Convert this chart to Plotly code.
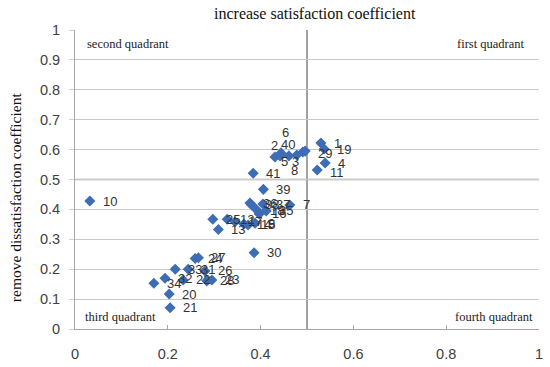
import plotly.graph_objects as go

# ---- data ----
labels = ["1", "2", "3", "4", "5", "6", "7", "8", "9", "10",
          "11", "12", "13", "14", "15", "16", "17", "18", "19", "20",
          "21", "22", "23", "24", "25", "26", "27", "28", "29", "30",
          "31", "32", "33", "34", "35", "36", "37", "38", "39", "40", "41"]
inc_sat = [0.530, 0.431, 0.478, 0.539, 0.442, 0.444, 0.463, 0.491, 0.388, 0.032,
           0.522, 0.328, 0.309, 0.364, 0.373, 0.397, 0.345, 0.392, 0.537, 0.203,
           0.205, 0.233, 0.295, 0.259, 0.297, 0.280, 0.266, 0.284, 0.496, 0.386,
           0.244, 0.194, 0.216, 0.170, 0.412, 0.377, 0.405, 0.381, 0.406, 0.461, 0.384]
rem_dis = [0.622, 0.575, 0.582, 0.555, 0.579, 0.589, 0.415, 0.592, 0.354, 0.428,
           0.532, 0.367, 0.333, 0.351, 0.348, 0.385, 0.359, 0.398, 0.602, 0.117,
           0.071, 0.164, 0.164, 0.236, 0.367, 0.194, 0.238, 0.161, 0.595, 0.255,
           0.200, 0.170, 0.200, 0.153, 0.395, 0.421, 0.418, 0.415, 0.467, 0.579, 0.521]
x_ticks = [0, 0.2, 0.4, 0.6, 0.8, 1]
y_ticks = [0, 0.1, 0.2, 0.3, 0.4, 0.5, 0.6, 0.7, 0.8, 0.9, 1]
quadrants = ["second quadrant", "first quadrant", "third quadrant", "fourth quadrant"]
x_title = "increase satisfaction coefficient"
y_title = "remove dissatisfaction coefficient"

# ---- label offsets (pixels, style only) ----
label_offset = {"2": (-4.5, 12), "40": (-9, 11), "6": (-0.5, 20), "5": (0, -6),
                "3": (-6, -7), "8": (-12.5, -19), "29": (12, -2), "11": (12, -3)}
default_offset = (12, 0)

MARKER = "#3D6DB4"
SERIF = "Liberation Serif"
SANS = "Liberation Sans"

fig = go.Figure()
fig.add_trace(go.Scatter(
    x=inc_sat, y=rem_dis, mode="markers",
    marker=dict(symbol="diamond", size=8.5, color=MARKER, line=dict(width=0)),
    hoverinfo="skip", cliponaxis=False))

ann = []
for lab, xv, yv in zip(labels, inc_sat, rem_dis):
    dx, dy = label_offset.get(lab, default_offset)
    ann.append(dict(x=xv, y=yv, xref="x", yref="y", text=lab, showarrow=False,
                    xanchor="left", yanchor="middle", xshift=dx, yshift=dy,
                    font=dict(family=SANS, size=13, color="#333333"), borderpad=0))

qpos = [(0, 1, "left", 10, -14), (1, 1, "right", -12, -14),
        (0, 0, "left", 8, 12), (1, 0, "right", -4, 12)]
for q, (qx, qy, anc, xs, ys) in zip(quadrants, qpos):
    ann.append(dict(x=qx, y=qy, xref="paper", yref="paper", text=q, showarrow=False,
                    xanchor=anc, yanchor="middle", xshift=xs, yshift=ys,
                    font=dict(family=SERIF, size=12.5, color="#222222")))

ann.append(dict(x=0.517, y=1, xref="paper", yref="paper", text=x_title, showarrow=False,
                xanchor="center", yanchor="middle", yshift=17,
                font=dict(family=SERIF, size=16, color="#111111")))
ann.append(dict(x=0, y=0.441, xref="paper", yref="paper", text=y_title, showarrow=False,
                xanchor="center", yanchor="middle", xshift=-60, textangle=-90,
                font=dict(family=SERIF, size=15.5, color="#111111")))

shapes = [
    dict(type="line", xref="x", yref="y", x0=0.5, x1=0.5, y0=0, y1=1,
         line=dict(color="#7A7A7A", width=1.4), layer="below"),
    dict(type="line", xref="x", yref="y", x0=0, x1=1, y0=0.5, y1=0.5,
         line=dict(color="#A0A0A0", width=1.3), layer="below"),
]

fig.update_layout(
    width=550, height=367,
    margin=dict(l=75, r=11, t=30, b=38, autoexpand=False),
    plot_bgcolor="white", paper_bgcolor="white",
    showlegend=False, annotations=ann, shapes=shapes,
    xaxis=dict(range=[0, 1], tickvals=x_ticks, showgrid=False, zeroline=False,
               automargin=False,
               showline=True, linecolor="#A6A6A6", linewidth=1,
               ticks="inside", ticklen=4, tickcolor="#A6A6A6",
               ticklabelstandoff=12,
               tickfont=dict(family=SANS, size=14.5, color="#404040")),
    yaxis=dict(range=[0, 1], tickvals=y_ticks, showgrid=True, gridcolor="#CACACA",
               automargin=False,
               gridwidth=1, zeroline=False, showline=True, linecolor="#A6A6A6",
               linewidth=1, ticks="outside", ticklen=5, tickcolor="#D0D0D0",
               ticklabelstandoff=6,
               tickfont=dict(family=SANS, size=14.5, color="#404040")),
)

# remove the default page margin so the 550x367 figure fills the window exactly
fig.write_html("out.html",
               config={"displayModeBar": False, "staticPlot": True},
               post_script="document.body.style.margin='0';document.body.style.overflow='hidden';")
